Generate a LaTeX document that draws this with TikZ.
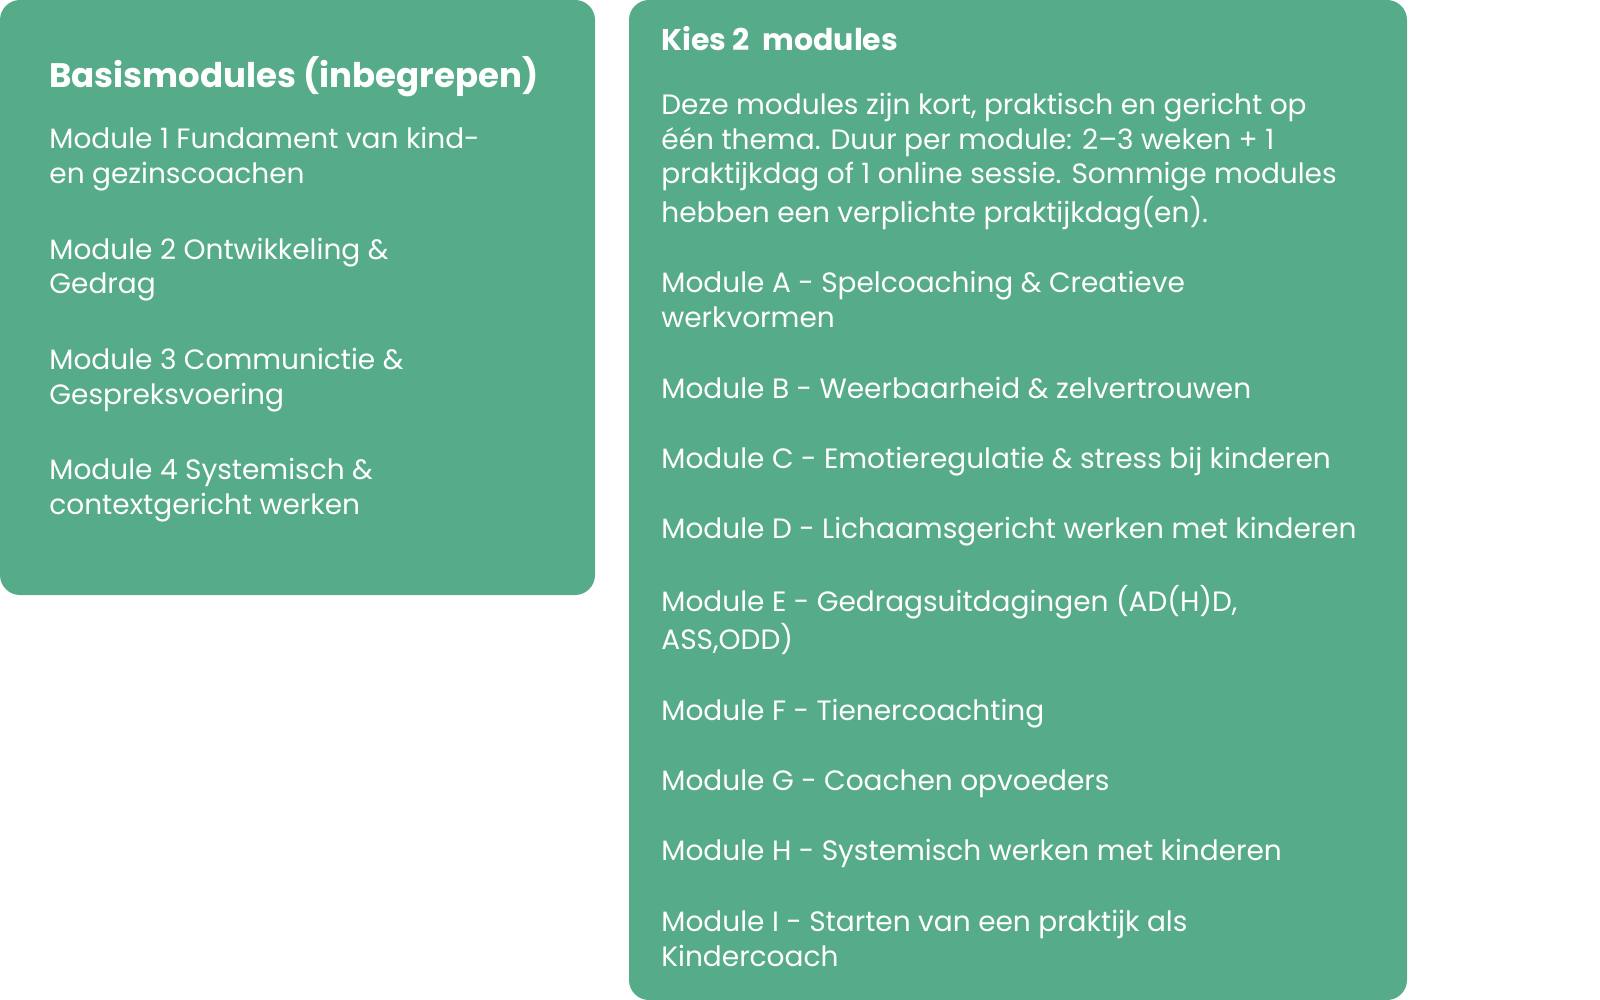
\documentclass[tikz,border=0pt]{standalone}
\usepackage{fontspec}
\setmainfont{Poppins}
\usetikzlibrary{positioning}
\definecolor{mint}{HTML}{56AB89}
\tikzset{
  panel/.style={fill=mint,rounded corners=10pt},
  item/.style={anchor=north west,inner sep=0pt,align=left,text=white,
    font=\fontsize{14}{17.4}\selectfont},
  head/.style={item,font=\fontsize{15}{17.4}\selectfont\bfseries},
}
\newcommand{\tl}[1]{\strut#1\strut}
\begin{document}
\begin{tikzpicture}[x=1pt,y=-1pt]
  \useasboundingbox (0,0) rectangle (800,500);
  \fill[panel] (0,0) rectangle (297.5,297.5);
  \fill[panel] (314.5,0) rectangle (703.5,500);
  % basismodules
  \node[head,font=\fontsize{17}{20}\selectfont\bfseries] (basis) at (24.5,28) {\tl{Basismodules (inbegrepen)}};
  \node[item,below=12pt of basis.south west,anchor=north west] (m1) {\tl{Module 1 Fundament van kind-}\\\tl{en gezinscoachen}};
  \node[item,below=20pt of m1.south west,anchor=north west] (m2) {\tl{Module 2 Ontwikkeling \&}\\\tl{Gedrag}};
  \node[item,below=20pt of m2.south west,anchor=north west] (m3) {\tl{Module 3 Communictie \&}\\\tl{Gespreksvoering}};
  \node[item,below=20pt of m3.south west,anchor=north west] (m4) {\tl{Module 4 Systemisch \&}\\\tl{contextgericht werken}};
  % keuzemodules
  \node[head] (kies) at (330.5,13) {\tl{Kies 2\ \ modules}};
  \node[item,below=14pt of kies.south west,anchor=north west] (intro) {\tl{Deze modules zijn kort, praktisch en gericht op}\\\tl{één thema. Duur per module: 2–3 weken + 1}\\\tl{praktijkdag of 1 online sessie. Sommige modules}\\\tl{hebben een verplichte praktijkdag(en).}};
  \node[item,below=17.4pt of intro.south west,anchor=north west] (ma) {\tl{Module A - Spelcoaching \& Creatieve}\\\tl{werkvormen}};
  \node[item,below=17.4pt of ma.south west,anchor=north west] (mb) {\tl{Module B - Weerbaarheid \& zelvertrouwen}};
  \node[item,below=17.4pt of mb.south west,anchor=north west] (mc) {\tl{Module C - Emotieregulatie \& stress bij kinderen}};
  \node[item,below=17.4pt of mc.south west,anchor=north west] (md) {\tl{Module D - Lichaamsgericht werken met kinderen}};
  \node[item,below=17.4pt of md.south west,anchor=north west] (me) {\tl{Module E - Gedragsuitdagingen (AD(H)D,}\\\tl{ASS,ODD)}};
  \node[item,below=17.4pt of me.south west,anchor=north west] (mf) {\tl{Module F - Tienercoachting}};
  \node[item,below=17.4pt of mf.south west,anchor=north west] (mg) {\tl{Module G - Coachen opvoeders}};
  \node[item,below=17.4pt of mg.south west,anchor=north west] (mh) {\tl{Module H - Systemisch werken met kinderen}};
  \node[item,below=17.4pt of mh.south west,anchor=north west] (mi) {\tl{Module I - Starten van een praktijk als}\\\tl{Kindercoach}};
\end{tikzpicture}
\end{document}
